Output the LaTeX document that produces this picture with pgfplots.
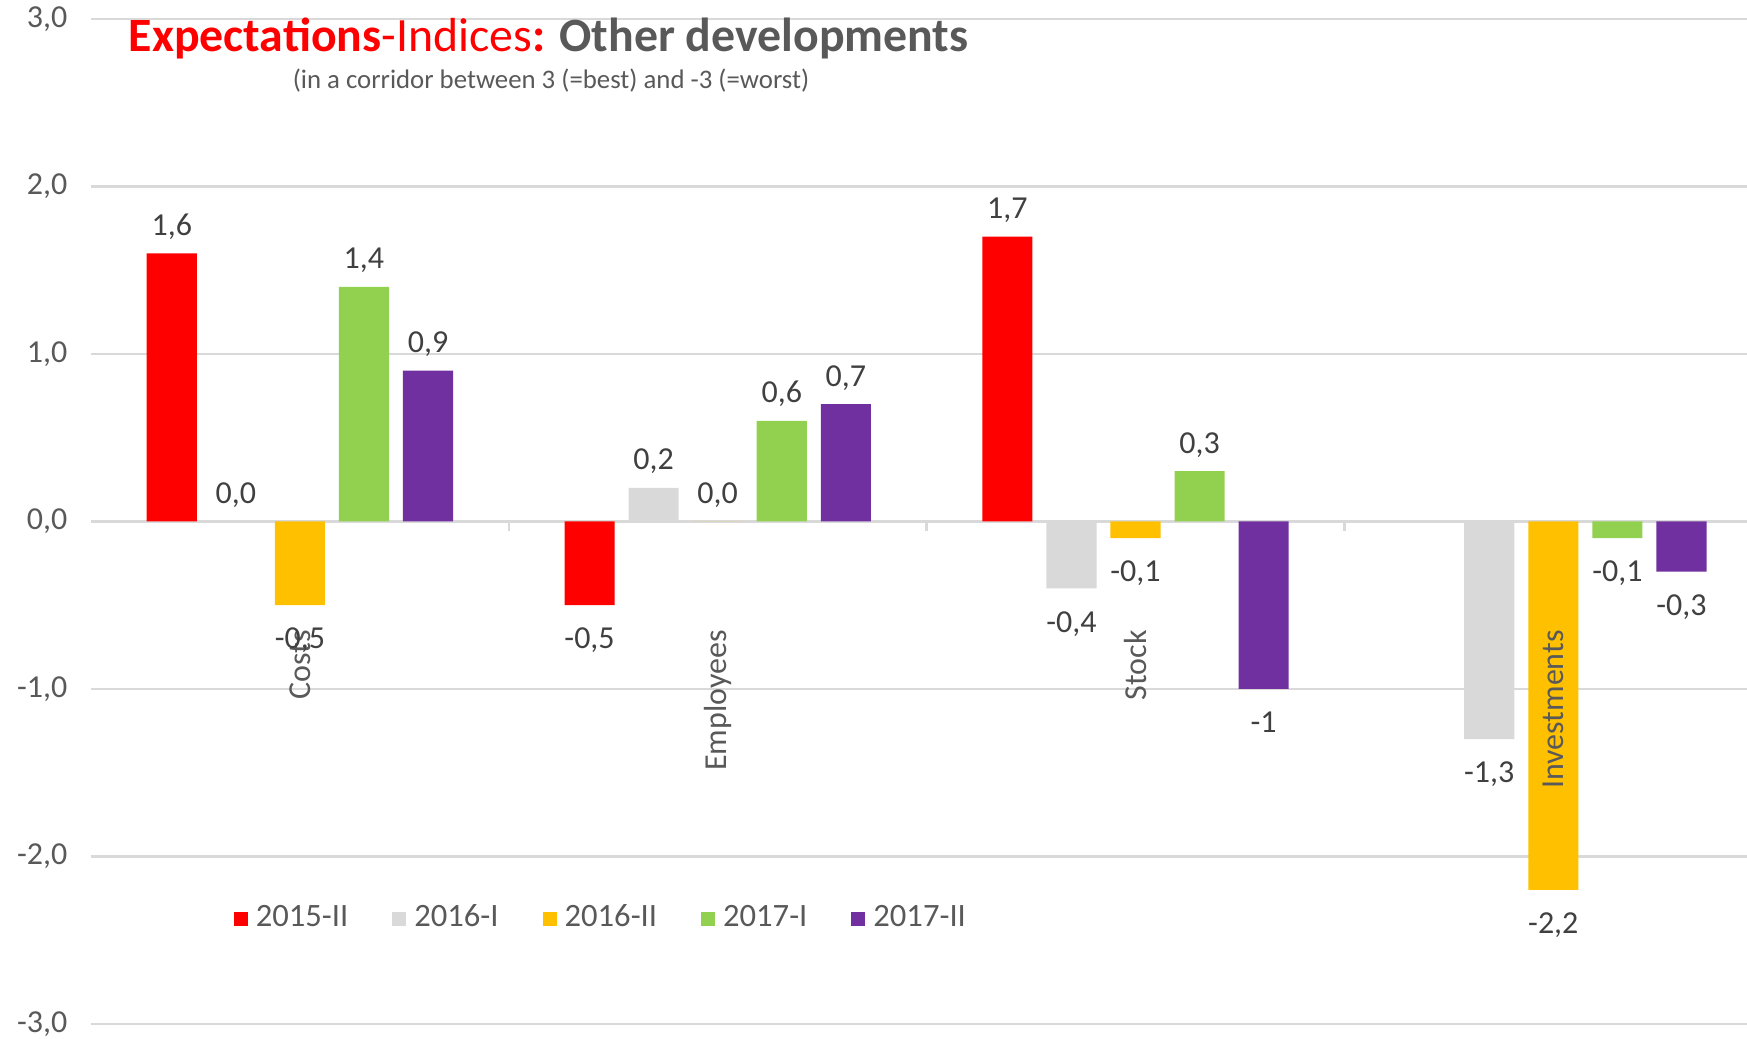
\documentclass[border=0pt]{standalone}
\usepackage{fontspec}
\setmainfont{Carlito}
\usepackage{pgfplots}
\usepackage{pgfplotstable}
\pgfplotsset{compat=1.18}

\definecolor{cRed}{HTML}{FF0000}
\definecolor{cGray}{HTML}{D9D9D9}
\definecolor{cYellow}{HTML}{FFC000}
\definecolor{cGreen}{HTML}{92D050}
\definecolor{cPurple}{HTML}{7030A0}
\definecolor{cText}{HTML}{595959}
\definecolor{cLabel}{HTML}{404040}
\definecolor{cGrid}{HTML}{D9D9D9}

% x = category (0 Costs, 1 Employees, 2 Stock, 3 Investments)
\pgfplotstableread{
x a la b lb c lc d ld e le
0 1.6 1,6 0 0,0 -0.5 -0,5 1.4 1,4 0.9 0,9
1 -0.5 -0,5 0.2 0,2 0 0,0 0.6 0,6 0.7 0,7
2 1.7 1,7 -0.4 -0,4 -0.1 -0,1 0.3 0,3 -1 -1
3 nan - -1.3 -1,3 -2.2 -2,2 -0.1 -0,1 -0.3 -0,3
}\datatable

\pgfplotsset{
  mybar/.style={ybar, bar width=0.12, bar shift=0, draw=none, fill=#1,
    nodes near coords={\pgfplotspointmeta},
    point meta=explicit symbolic,
    visualization depends on={rawy \as \rawy},
    every node near coord/.append style={font=\fontsize{8}{9.6}\selectfont, text=cLabel,
      /utils/exec={\ifdim\rawy pt<0pt \def\myanc{north}\def\mysh{-2.2pt}\else\def\myanc{south}\def\mysh{0pt}\fi},
      anchor=\myanc, yshift=\mysh},
    legend image code/.code={\fill[##1, draw=none] (0pt,-1.75pt) rectangle (3.5pt,1.75pt);}},
}

\begin{document}
\begin{tikzpicture}
\useasboundingbox (0,0) rectangle (436.75pt,259.75pt);
\begin{axis}[
  at={(22.75pt,3.75pt)}, anchor=south west,
  scale only axis, width=414pt, height=251.25pt,
  xmin=-0.5, xmax=3.4636, ymin=-3, ymax=3,
  clip=false,
  axis x line=middle, axis y line=left,
  x axis line style={-, draw=cGrid, line width=0.6pt},
  y axis line style={draw=none},
  xtick={-0.5,0.5,1.5,2.5,3.5}, xticklabels={},
  tick align=outside, major tick length=2.4pt,
  xtick style={draw=cGrid, line width=0.6pt},
  ytick={-3,-2,-1,0,1,2,3},
  ytick style={draw=none},
  ymajorgrids, grid style={draw=cGrid, line width=0.6pt},
  yticklabel style={font=\fontsize{8}{9.6}\selectfont, text=cText,
    /pgf/number format/.cd, fixed, fixed zerofill, precision=1, use comma, assume math mode=true},
  legend style={at={(axis cs:-0.16,-2.373)}, anchor=west, draw=none, fill=none,
    inner sep=0pt, font=\fontsize{8.15}{10}\selectfont, text=cText,
    /tikz/every even column/.append style={column sep=9pt}},
  legend columns=-1,
]
\addplot[mybar=cRed] table[x expr=\thisrow{x}-0.3067, y=a, meta=la] {\datatable};
\addlegendentry{2015-II}
\addplot[mybar=cGray] table[x expr=\thisrow{x}-0.1533, y=b, meta=lb] {\datatable};
\addlegendentry{2016-I}
\addplot[mybar=cYellow] table[x=x, y=c, meta=lc] {\datatable};
\addlegendentry{2016-II}
\addplot[mybar=cGreen] table[x expr=\thisrow{x}+0.1533, y=d, meta=ld] {\datatable};
\addlegendentry{2017-I}
\addplot[mybar=cPurple] table[x expr=\thisrow{x}+0.3067, y=e, meta=le] {\datatable};
\addlegendentry{2017-II}

\node[rotate=90, anchor=east, inner sep=0pt, font=\fontsize{8}{9.6}\selectfont, text=cText] at (axis cs:0,-0.645) {Costs};
\node[rotate=90, anchor=east, inner sep=0pt, font=\fontsize{8}{9.6}\selectfont, text=cText] at (axis cs:1,-0.645) {Employees};
\node[rotate=90, anchor=east, inner sep=0pt, font=\fontsize{8}{9.6}\selectfont, text=cText] at (axis cs:2,-0.645) {Stock};
\node[rotate=90, anchor=east, inner sep=0pt, font=\fontsize{8}{9.6}\selectfont, text=cText] at (axis cs:3,-0.645) {Investments};
\end{axis}

\node[anchor=base west, inner sep=0pt, font=\fontsize{11.95}{14}\selectfont] at (32pt,246.75pt)
  {\textcolor{cRed}{\textbf{Expectations}-Indices\textbf{:}} \textcolor{cText}{\textbf{Other developments}}};
\node[anchor=base west, inner sep=0pt, font=\fontsize{6.7}{8}\selectfont, text=cText] at (73pt,237.5pt)
  {(in a corridor between 3 (=best) and -3 (=worst)};
\end{tikzpicture}
\end{document}
